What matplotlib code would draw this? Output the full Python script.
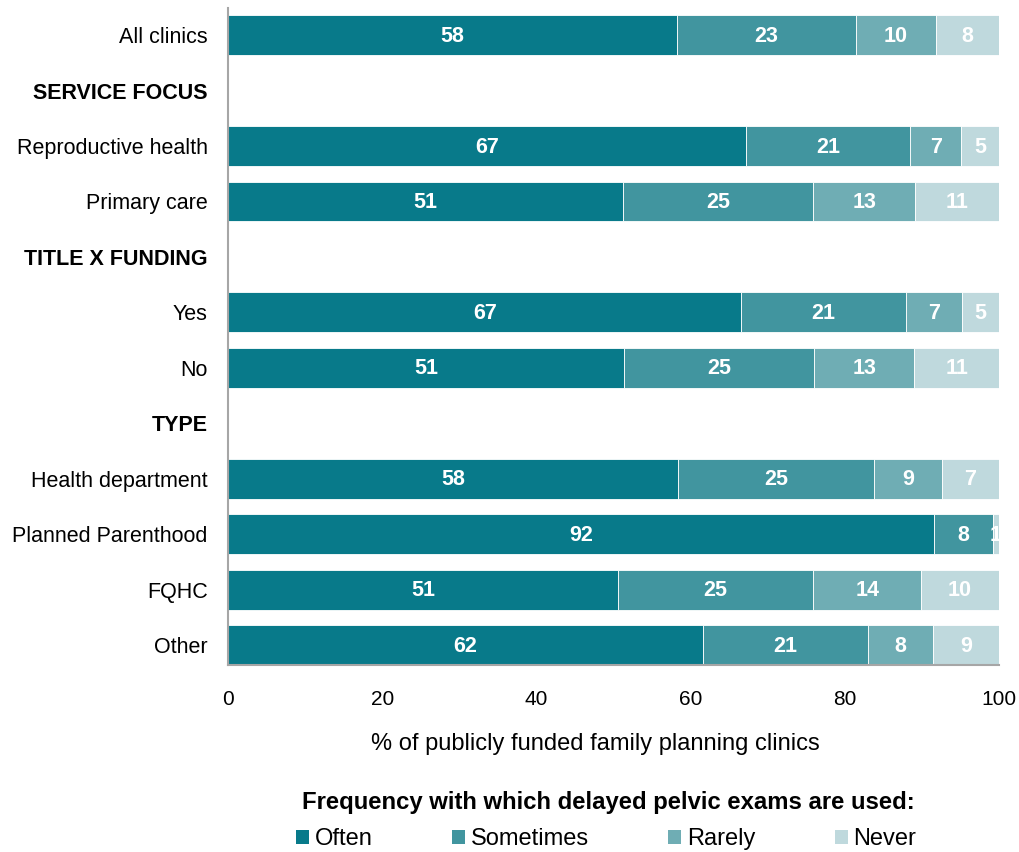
import matplotlib
matplotlib.use("Agg")
import matplotlib.pyplot as plt
from matplotlib.patches import Patch
import numpy as np

plt.rcParams["font.family"] = ["Liberation Sans", "DejaVu Sans"]

# Rows from top to bottom; section headers have no bar
rows = ["All clinics", "SERVICE FOCUS", "Reproductive health", "Primary care",
        "TITLE X FUNDING", "Yes", "No", "TYPE", "Health department",
        "Planned Parenthood", "FQHC", "Other"]
headers = ["SERVICE FOCUS", "TITLE X FUNDING", "TYPE"]

series = ["Often", "Sometimes", "Rarely", "Never"]
colors = ["#087A8A", "#41959F", "#6FADB4", "#BFD9DD"]

# Percent of clinics per row (None for header rows)
often = [58.2, None, 67.2, 51.2, None, 66.6, 51.4, None, 58.4, 91.6, 50.6, 61.6]
sometimes = [23.3, None, 21.3, 24.7, None, 21.3, 24.6, None, 25.4, 7.6, 25.3, 21.4]
rarely = [10.3, None, 6.6, 13.2, None, 7.3, 13.0, None, 8.8, 0.0, 14.0, 8.4]
never = [8.2, None, 4.9, 10.9, None, 4.8, 11.0, None, 7.4, 0.8, 10.1, 8.6]

xticks = [0, 20, 40, 60, 80, 100]

fig = plt.figure(figsize=(10.19, 8.52), dpi=100)
ax = fig.add_axes([0.2237, 0.2195, 0.7567, 0.7711])

y = np.arange(len(rows))
left = np.zeros(len(rows))
for name, vals, col in zip(series, [often, sometimes, rarely, never], colors):
    w = np.array([v if v is not None else 0.0 for v in vals])
    ax.barh(y, w, left=left, height=0.72, color=col, edgecolor="white",
            linewidth=0.6, label=name)
    for yi, (v, l) in enumerate(zip(vals, left)):
        if v is None or v <= 0:
            continue
        ax.text(l + v / 2, yi + 0.02, f"{v:.0f}", ha="center", va="center",
                color="white", fontsize=15.5, fontweight="bold", clip_on=True)
    left = left + w

ax.set_xlim(0, 100)
ax.set_ylim(len(rows) - 1 + 0.36, -0.49)
ax.set_yticks(y)
ax.set_yticklabels(rows, fontsize=15.5)
for lab in ax.get_yticklabels():
    if lab.get_text() in headers:
        lab.set_fontweight("bold")
ax.set_xticks(xticks)
ax.set_xticklabels([str(t) for t in xticks], fontsize=15)
ax.tick_params(axis="both", length=0)
ax.tick_params(axis="x", pad=18)
ax.tick_params(axis="y", pad=14.5)

for s in ["top", "right"]:
    ax.spines[s].set_visible(False)
for s in ["left", "bottom"]:
    ax.spines[s].set_color("#A6A6A6")
    ax.spines[s].set_linewidth(1.5)

ax.set_xlabel("% of publicly funded family planning clinics", fontsize=17)
ax.xaxis.set_label_coords(0.476, -0.104)

# Legend: bold heading on one line, four swatches below it
fig.text(0.597, 1 - 803 / 852, "Frequency with which delayed pelvic exams are used:",
         ha="center", va="center", fontsize=17.2, fontweight="bold")
handles = [Patch(facecolor=c, edgecolor="none") for c in colors]
fig.legend(handles, series, loc="center", ncol=4,
           bbox_to_anchor=(0.595, 1 - 839 / 852), frameon=False,
           fontsize=17, handlelength=0.55, handleheight=0.55,
           handletextpad=0.25, columnspacing=3.35, borderaxespad=0,
           borderpad=0)

fig.savefig("out.png", dpi=100)
